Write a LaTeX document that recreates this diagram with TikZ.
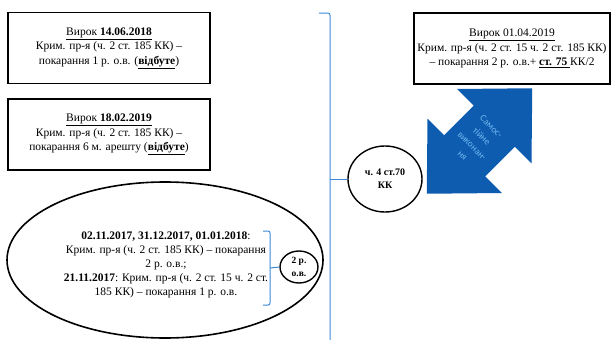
\documentclass[tikz,border=0pt]{standalone}
\usepackage{fontspec}
\setmainfont{Liberation Serif}
\newfontfamily\carlito{Carlito}
\usetikzlibrary{shapes,positioning}

\definecolor{arrowblue}{RGB}{14,92,176}
\definecolor{arrowtext}{RGB}{110,182,240}
\definecolor{braceblue}{RGB}{60,136,216}

\begin{document}
\begin{tikzpicture}[x=1pt,y=-1pt,
  verdict/.style={draw,line width=1.6pt,minimum width=202pt,minimum height=71pt,
    inner sep=0pt,align=center,font=\fontsize{11.5}{14.5}\selectfont},
  ring/.style={draw,ellipse,line width=1.4pt,inner sep=0pt,align=center},
  brace/.style={draw=braceblue,line width=1pt,rounded corners=2pt}]

\useasboundingbox (0,0) rectangle (611,340);

\node[verdict] (v1) at (109,48) {\underline{Вирок \textbf{14.06.2018}}\\
  Крим. пр-я (ч. 2 ст. 185 КК) –\\
  покарання 1 р. о.в. (\underline{\textbf{відбуте}})};

\node[verdict] (v2) at (109,134.5) {\underline{Вирок \textbf{18.02.2019}}\\
  Крим. пр-я (ч. 2 ст. 185 КК) –\\
  покарання 6 м. арешту (\underline{\textbf{відбуте}})};

\node[verdict,minimum width=196pt] (v3) at (512,48.5) {\underline{Вирок 01.04.2019}\\
  Крим. пр-я (ч. 2 ст. 15 ч. 2 ст. 185 КК)\\
  – покарання 2 р. о.в.+ \underline{\textbf{ст. 75 }}КК/2};

\node[ring,line width=1.6pt,minimum width=316pt,minimum height=156pt] (grp) at (165,260) {};
\node[align=center,inner sep=0pt,font=\fontsize{11.5}{14}\selectfont] (grptext) at (166,265)
  {\textbf{02.11.2017, 31.12.2017, 01.01.2018}:\\
  Крим. пр-я (ч. 2 ст. 185 КК) – покарання\\
  2 р. о.в.;\\
  \textbf{21.11.2017}: Крим. пр-я (ч. 2 ст. 15 ч. 2 ст.\\
  185 КК) – покарання 1 р. о.в.};

\node[ring,minimum width=38pt,minimum height=32pt,font=\bfseries\fontsize{9.5}{13.5}\selectfont] (term) at (299,267) {2 р.\\о.в.};
\draw[brace] (263,231) -- (270,231) -- (270,305) -- (263,305);
\draw[brace] (270,268) -- (term.west);

\node[ring,minimum width=74pt,minimum height=66pt,font=\bfseries\fontsize{10}{13}\selectfont] (total) at (385,179) {ч. 4 ст.70\\КК};
\draw[brace] (319,13) -- (330,13) -- (330,345);
\draw[brace] (330,179) -- (total.west);

\fill[arrowblue] (532.25,88.25) -- (531.5,163.3) -- (514.9,146.7) -- (485.2,176.4)
  -- (501.8,193) -- (426.75,193.75) -- (427.5,118.7) -- (444.1,135.3)
  -- (473.8,105.6) -- (457.2,89) -- cycle;
\node[rotate=-45,align=center,inner sep=0pt,text=arrowtext,
  font=\carlito\fontsize{9.5}{13.5}\selectfont] (selfexec) at (477,141)
  {Самос-\\тійне\\виконан-\\ня};

\end{tikzpicture}
\end{document}
